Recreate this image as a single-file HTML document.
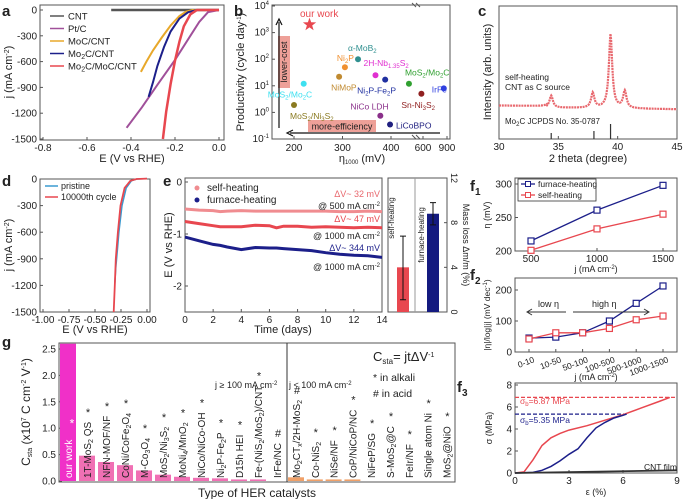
<!DOCTYPE html>
<html><head><meta charset="utf-8"><style>
body{margin:0;background:#fff}
svg{display:block;font-family:"Liberation Sans","Noto Sans CJK SC",sans-serif}
text{fill:#222}
</style></head><body>
<svg id="fig" width="685" height="499" viewBox="0 0 685 499">
<g font-weight="bold" font-size="15">
<text x="2" y="16">a</text><text x="234" y="16">b</text><text x="478" y="16">c</text>
<text x="2" y="186">d</text><text x="163" y="186">e</text><text x="2" y="347">g</text>
<text x="470" y="191">f<tspan font-size="10" dy="4">1</tspan></text>
<text x="470" y="280">f<tspan font-size="10" dy="4">2</tspan></text>
<text x="457" y="392">f<tspan font-size="10" dy="4">3</tspan></text>
</g>
</svg>
<script>
const NS='http://www.w3.org/2000/svg';
const svg=document.getElementById('fig');
function lin(d0,d1,r0,r1){return v=>r0+(v-d0)*(r1-r0)/(d1-d0);}
function mk(tag,attrs,name){const el=document.createElementNS(NS,tag);for(const k in attrs)el.setAttribute(k,attrs[k]);


svg.appendChild(el);return el;}
function tx(x,y,html,size,name,extra){const el=mk('text',Object.assign({x:x,y:y,'font-size':size},extra||{}),name);el.innerHTML=html;return el;}
function box(x0,y0,x1,y1,name){mk('rect',{x:x0,y:y0,width:x1-x0,height:y1-y0,fill:'none',stroke:'#555','stroke-width':1},name);}
function xticks(vals,sx,y,name,fmt){vals.forEach(v=>{mk('line',{x1:sx(v),x2:sx(v),y1:y,y2:y-3,stroke:'#555'},name+'-tick');
tx(sx(v),y+11,fmt?fmt(v):v,10,name+'-label',{'text-anchor':'middle'});});}
function yticks(vals,sy,x,name,fmt){vals.forEach(v=>{mk('line',{x1:x,x2:x+3,y1:sy(v),y2:sy(v),stroke:'#555'},name+'-tick');
tx(x-3,sy(v)+3.5,fmt?fmt(v):v,10,name+'-label',{'text-anchor':'end'});});}
function path(xs,ys,sx,sy,color,name,w,dash){const d=xs.map((v,i)=>(i?'L':'M')+sx(v).toFixed(1)+','+sy(ys[i]).toFixed(1)).join('');
return mk('path',{d:d,fill:'none',stroke:color,'stroke-width':w||1.5,'stroke-dasharray':dash||'none'},name);}
function rot(x,y,html,size,name,ang,anchor){return tx(x,y,html,size,name,{transform:'rotate('+(ang||-90)+' '+x+' '+y+')','text-anchor':anchor||'middle'});}

/* ---------- panel a data ---------- */
const aCntE=[-0.49,0], aCntJ=[0,0];
const aPtE=[-0.42,-0.35,-0.28,-0.2,-0.14,-0.09,-0.05,0], aPtJ=[-1370,-1130,-870,-580,-340,-140,-25,0];
const aMoCE=[-0.355,-0.33,-0.3,-0.26,-0.22,-0.18,-0.15,-0.12,0], aMoCJ=[-720,-600,-470,-320,-180,-70,-20,0,0];
const aMo2CE=[-0.32,-0.3,-0.28,-0.25,-0.22,-0.18,-0.14,-0.1,0], aMo2CJ=[-1010,-840,-650,-430,-250,-100,-25,0,0];
const aHybE=[-0.255,-0.24,-0.22,-0.2,-0.18,-0.16,-0.13,-0.1,0], aHybJ=[-1500,-1180,-860,-590,-370,-190,-50,0,0];
box(40,5,224,140,'panel-a-frame');
const xa=lin(-0.8,0,43,219), ya=lin(0,-1500,10,139);
xticks([-0.8,-0.6,-0.4,-0.2,0],xa,140,'a-x',v=>v.toFixed(1));
yticks([0,-300,-600,-900,-1200,-1500],ya,40,'a-y');
tx(132,162,'E (V vs RHE)',11,'a-x-title',{'text-anchor':'middle'});
rot(12,72,'j (mA cm<tspan dy="-3" font-size="7">-2</tspan><tspan dy="3">)</tspan>',11,'a-y-title');
path(aCntE,aCntJ,xa,ya,'#555','a-series-cnt',2.5);
path(aPtE,aPtJ,xa,ya,'#a0509a','a-series-ptc',2);
path(aMoCE,aMoCJ,xa,ya,'#e8a82a','a-series-moc',2);
path(aMo2CE,aMo2CJ,xa,ya,'#1c1f8a','a-series-mo2c',2);
path(aHybE,aHybJ,xa,ya,'#e8474f','a-series-hybrid',2.5);
[['CNT','#555'],['Pt/C','#a0509a'],['MoC/CNT','#e8a82a'],['Mo<tspan dy="2" font-size="7">2</tspan><tspan dy="-2">C/CNT</tspan>','#1c1f8a'],['Mo<tspan dy="2" font-size="7">2</tspan><tspan dy="-2">C/MoC/CNT</tspan>','#e8474f']].forEach((l,i)=>{
mk('line',{x1:50,x2:64,y1:16+i*12.5,y2:16+i*12.5,stroke:l[1],'stroke-width':1.5},'a-legend-line');
tx(68,19.5+i*12.5,l[0],9.5,'a-legend-entry');});

/* ---------- panel b data ---------- */
const bNames=['MoS<tspan dy="2" font-size="6">2</tspan><tspan dy="-2">/Ni</tspan><tspan dy="2" font-size="6">3</tspan><tspan dy="-2">S</tspan><tspan dy="2" font-size="6">2</tspan>','MoS<tspan dy="2" font-size="6">2</tspan><tspan dy="-2">/Mo</tspan><tspan dy="2" font-size="6">2</tspan><tspan dy="-2">C</tspan>','NiMoP','Ni<tspan dy="2" font-size="6">2</tspan><tspan dy="-2">P</tspan>','α-MoB<tspan dy="2" font-size="6">2</tspan>','2H-Nb<tspan dy="2" font-size="6">1.35</tspan><tspan dy="-2">S</tspan><tspan dy="2" font-size="6">2</tspan>','NiCo LDH','Ni<tspan dy="2" font-size="6">2</tspan><tspan dy="-2">P-Fe</tspan><tspan dy="2" font-size="6">2</tspan><tspan dy="-2">P</tspan>','LiCoBPO','MoS<tspan dy="2" font-size="6">2</tspan><tspan dy="-2">/Mo</tspan><tspan dy="2" font-size="6">2</tspan><tspan dy="-2">C</tspan>','Sn-Ni<tspan dy="2" font-size="6">3</tspan><tspan dy="-2">S</tspan><tspan dy="2" font-size="6">2</tspan>','IrFe'];
const bEta=[200,220,293,305,332,368,378,388,398,437,580,860];
const bProd=[1.9,12,22,50,100,25,0.75,17,0.35,12,5,8];
const bColors=['#8a7a20','#3de0f0','#c08a30','#f09030','#309090','#e030d0','#8a308a','#2030a0','#202080','#30a030','#902020','#3040e0'];
const bLabelDx=[-4,-36,-8,-8,-10,-12,-30,-28,6,-4,-20,-12];
const bLabelDy=[14,14,14,-6,-8,-9,-6,14,4,-8,14,4];
box(272,5,450,139,'panel-b-frame');
const xb=v=>v<=450?294+(v-200)*0.485:423+(v-600)*0.08;
const yb=v=>139-(Math.log10(v)+1)*26.6;
[200,300,400].forEach(v=>{mk('line',{x1:xb(v),x2:xb(v),y1:139,y2:136,stroke:'#555'},'b-x-tick');tx(xb(v),151,v,10,'b-x-label',{'text-anchor':'middle'});});
[600,900].forEach(v=>{mk('line',{x1:xb(v),x2:xb(v),y1:139,y2:136,stroke:'#555'},'b-x-tick');tx(xb(v),151,v,10,'b-x-label',{'text-anchor':'middle'});});
[-1,0,1,2,3,4].forEach(e=>{const y=yb(Math.pow(10,e));mk('line',{x1:272,x2:275,y1:y,y2:y,stroke:'#555'},'b-y-tick');tx(269,y+3,'10<tspan dy="-4" font-size="6">'+e+'</tspan>',10,'b-y-label',{'text-anchor':'end'});});
tx(362,162,'η<tspan dy="2" font-size="6">1000</tspan><tspan dy="-2"> (mV)</tspan>',11,'b-x-title',{'text-anchor':'middle'});
rot(244,72,'Productivity (cycle day<tspan dy="-3" font-size="6">-1</tspan><tspan dy="3">)</tspan>',11,'b-y-title');
mk('rect',{x:278,y:36,width:12,height:52,fill:'#eea098'},'lower-cost-band');
rot(287,62,'lower-cost',9,'lower-cost-label');
mk('rect',{x:308,y:120,width:68,height:12,fill:'#eea098'},'more-efficiency-band');
tx(342,129.5,'more-efficiency',9,'more-efficiency-label',{'text-anchor':'middle'});
mk('path',{d:'M279,128V22M276,25L279,19L282,25',fill:'none',stroke:'#111','stroke-width':1.2},'lower-cost-arrow');
mk('path',{d:'M440,133H290M293,130L287,133L293,136',fill:'none',stroke:'#111','stroke-width':1.2},'efficiency-arrow');
mk('path',{d:'M412,3l4,4M416,3l4,4M412,135l4,4M416,135l4,4',stroke:'#555'},'axis-break-marks');
bEta.forEach((v,i)=>{mk('circle',{cx:xb(v),cy:yb(bProd[i]),r:3,fill:bColors[i]},'b-point');
tx(xb(v)+bLabelDx[i],yb(bProd[i])+bLabelDy[i],bNames[i],8.5,'b-point-label',{style:'fill:'+bColors[i]});});
const starX=xb(232),starY=yb(2000);
mk('path',{d:(()=>{let d='';for(let k=0;k<10;k++){const r=k%2?2.8:7,a=-Math.PI/2+k*Math.PI/5;d+=(k?'L':'M')+(starX+r*Math.cos(a)).toFixed(1)+','+(starY+r*Math.sin(a)).toFixed(1);}return d+'Z';})(),fill:'#e8474f'},'our-work-star');
tx(300,17,'our work',10,'our-work-label',{style:'fill:#e8474f'});

/* ---------- panel c data ---------- */
const cPeakPos=[34.4,37.9,39.4,40.6];
const cPeakHt=[12,15,74,17];
const cRefPos=[34.4,38.0,39.4];
const cRefHt=[6,8,15];
box(499,6,677,139,'panel-c-frame');
const xc=lin(30,45,499,677);
xticks([30,35,40,45],xc,139,'c-x');
tx(588,162,'2 theta (degree)',11,'c-x-title',{'text-anchor':'middle'});
rot(491,72,'Intensity (arb. units)',11,'c-y-title');
(()=>{let d='';for(let t=30;t<=45;t+=0.05){let I=0;cPeakPos.forEach((p,i)=>{I+=cPeakHt[i]/(1+Math.pow((t-p)/0.17,2));});I+=(t<34?1.5:0)-(t-30)*0.15;d+=(d?'L':'M')+xc(t).toFixed(1)+','+(107-I).toFixed(1);}
mk('path',{d:d,fill:'none',stroke:'#e8686e','stroke-width':2.2,'stroke-dasharray':'2 0.8'},'c-xrd-curve');})();
cRefPos.forEach((p,i)=>mk('line',{x1:xc(p),x2:xc(p),y1:139,y2:139-cRefHt[i],stroke:'#333','stroke-width':1.2},'c-reference-line'));
tx(505,80,'self-heating',8.5,'c-annotation');
tx(505,90,'CNT as C source',8.5,'c-annotation');
tx(505,124,'Mo<tspan dy="2" font-size="6">2</tspan><tspan dy="-2">C JCPDS No. 35-0787</tspan>',8,'c-jcpds-label');

/* ---------- panel d data ---------- */
const dPrisE=[-0.31,-0.3,-0.285,-0.27,-0.24,-0.2,-0.15,-0.1,0], dPrisJ=[-1180,-1000,-800,-600,-300,-100,-20,0,5];
const dCycE=[-0.32,-0.31,-0.3,-0.28,-0.255,-0.215,-0.16,-0.1,0], dCycJ=[-1500,-1200,-900,-600,-300,-100,-20,0,5];
box(40,179,150,312,'panel-d-frame');
const xd=lin(-1,0,43,147), yd=lin(0,-1500,179,312);
xticks([-1,-0.75,-0.5,-0.25,0],xd,312,'d-x',v=>v.toFixed(2));
yticks([0,-300,-600,-900,-1200,-1500],yd,40,'d-y');
tx(95,333,'E (V vs RHE)',11,'d-x-title',{'text-anchor':'middle'});
rot(12,245,'j (mA cm<tspan dy="-3" font-size="7">-2</tspan><tspan dy="3">)</tspan>',11,'d-y-title');
path(dPrisE,dPrisJ,xd,yd,'#3a9ad0','d-series-pristine',1.5);
path(dCycE,dCycJ,xd,yd,'#e8474f','d-series-10000th',1.8);
mk('line',{x1:45,x2:58,y1:186,y2:186,stroke:'#3a9ad0','stroke-width':1.5},'d-legend-line');
tx(61,189,'pristine',9,'d-legend-entry');
mk('line',{x1:45,x2:58,y1:197,y2:197,stroke:'#e8474f','stroke-width':1.5},'d-legend-line');
tx(61,200,'10000th cycle',9,'d-legend-entry');

/* ---------- panel e data ---------- */
const eT=[0,1,2,2.5,3,4,5,6,6.5,7,8,9,10,11,12,13,14];
const eSelf500=[-0.52,-0.54,-0.55,-0.57,-0.56,-0.55,-0.56,-0.56,-0.56,-0.56,-0.56,-0.56,-0.56,-0.57,-0.57,-0.56,-0.57];
const eSelf1000=[-0.76,-0.8,-0.84,-0.86,-0.86,-0.86,-0.83,-0.84,-0.88,-0.85,-0.85,-0.87,-0.86,-0.87,-0.88,-0.87,-0.88];
const eFurn1000=[-1.06,-1.13,-1.2,-1.22,-1.25,-1.3,-1.26,-1.27,-1.27,-1.28,-1.3,-1.32,-1.36,-1.39,-1.41,-1.42,-1.45];
const eBarVals=[4,8.8], eErrLo=[1.1,7.8], eErrHi=[6.8,9.8];
box(185,178,382,312,'panel-e-frame');
const xe=lin(0,14,185,382), ye=lin(0,-2,182,286);
xticks([0,2,4,6,8,10,12,14],xe,312,'e-x');
yticks([0,-1,-2],ye,185,'e-y');
tx(283,333,'Time  (days)',11,'e-x-title',{'text-anchor':'middle'});
rot(172,245,'E (V vs RHE)',11,'e-y-title');
path(eT,eSelf500,xe,ye,'#f08c90','e-self-500',3);
path(eT,eSelf1000,xe,ye,'#e8474f','e-self-1000',3);
path(eT,eFurn1000,xe,ye,'#1c1f8a','e-furnace-1000',3);
mk('circle',{cx:197,cy:188,r:2.5,fill:'#f08c90'},'e-legend-marker');tx(207,191,'self-heating',10,'e-legend-entry');
mk('circle',{cx:197,cy:200,r:2.5,fill:'#1c1f8a'},'e-legend-marker');tx(207,203,'furnace-heating',10,'e-legend-entry');
tx(380,197,'ΔV~ 32 mV',9,'e-dv-label',{'text-anchor':'end',style:'fill:#e8686e'});
tx(380,209,'@ 500 mA cm<tspan dy="-3" font-size="6">-2</tspan>',9,'e-current-label',{'text-anchor':'end'});
tx(380,222,'ΔV~ 47 mV',9,'e-dv-label',{'text-anchor':'end',style:'fill:#e8474f'});
tx(380,239,'@ 1000 mA cm<tspan dy="-3" font-size="6">-2</tspan>',9,'e-current-label',{'text-anchor':'end'});
tx(380,251,'ΔV~ 344 mV',9,'e-dv-label',{'text-anchor':'end',style:'fill:#1c1f8a'});
tx(380,270,'@ 1000 mA cm<tspan dy="-3" font-size="6">-2</tspan>',9,'e-current-label',{'text-anchor':'end'});
box(388,178,447,312,'e-inset-frame');
mk('line',{x1:415,x2:415,y1:178,y2:312,stroke:'#999'},'e-inset-divider');
const yeb=lin(0,12,312,178);
[0,4,8,12].forEach(v=>{mk('line',{x1:447,x2:444,y1:yeb(v),y2:yeb(v),stroke:'#555'},'e-inset-tick');rot(451,yeb(v),String(v),9,'e-inset-tick-label',90);});
rot(463,245,'Mass loss Δm/m (%)',9,'e-inset-y-title',90);
const ebX=[403,433],ebC=['#e8474f','#141a80'],ebN=['self-heating','furnace-heating'];
eBarVals.forEach((v,i)=>{mk('rect',{x:ebX[i]-6,y:yeb(v),width:12,height:312-yeb(v),fill:ebC[i]},'e-inset-bar');
mk('path',{d:'M'+ebX[i]+','+yeb(eErrLo[i])+'V'+yeb(eErrHi[i])+'M'+(ebX[i]-3)+','+yeb(eErrLo[i])+'h6M'+(ebX[i]-3)+','+yeb(eErrHi[i])+'h6',stroke:'#111',fill:'none'},'e-inset-errorbar');
rot(ebX[i]-9,i?235:218,ebN[i],8,'e-inset-bar-label',-90);});

/* ---------- panel f1 data ---------- */
const f1J=[500,1000,1500];
const f1Furn=[215,261,298], f1Self=[201,233,255];
box(515,178,677,251,'panel-f1-frame');
const xf1=lin(500,1500,531,663), yf1=lin(200,300,251,184);
xticks([500,1000,1500],xf1,251,'f1-x');
yticks([200,250,300],yf1,515,'f1-y');
tx(596,272,'j (mA cm<tspan dy="-3" font-size="6">-2</tspan><tspan dy="3">)</tspan>',9,'f1-x-title',{'text-anchor':'middle'});
rot(490,215,'η (mV)',9,'f1-y-title');
function mser(xs,ys,sx,sy,c,name){path(xs,ys,sx,sy,c,name+'-line',1.3);xs.forEach((v,i)=>mk('rect',{x:sx(v)-3,y:sy(ys[i])-3,width:6,height:6,fill:'#fff',stroke:c,'stroke-width':1.2},name+'-marker'));}
mser(f1J,f1Furn,xf1,yf1,'#1c1f8a','f1-furnace');
mser(f1J,f1Self,xf1,yf1,'#e8474f','f1-self');
mk('rect',{x:518,y:179,width:78,height:22,fill:'#fff',stroke:'#333','stroke-width':0.8},'f1-legend-box');
mk('line',{x1:521,x2:535,y1:184,y2:184,stroke:'#1c1f8a','stroke-width':1.3},'f1-legend-line');mk('rect',{x:525.5,y:181.5,width:5,height:5,fill:'#fff',stroke:'#1c1f8a'},'f1-legend-marker');
tx(538,187,'furnace-heating',8.5,'f1-legend-entry');
mk('line',{x1:521,x2:535,y1:195,y2:195,stroke:'#e8474f','stroke-width':1.3},'f1-legend-line');mk('rect',{x:525.5,y:192.5,width:5,height:5,fill:'#fff',stroke:'#e8474f'},'f1-legend-marker');
tx(538,198,'self-heating',8.5,'f1-legend-entry');

/* ---------- panel f2 data ---------- */
const f2Cats=['0-10','10-50','50-100','100-500','500-1000','1000-1500'];
const f2Furn=[45,48,62,100,157,213], f2Self=[42,62,62,76,104,116];
box(515,278,677,352,'panel-f2-frame');
const xf2=i=>529+i*26.8, yf2=lin(0,200,352,290);
yticks([0,100,200],yf2,515,'f2-y');
f2Cats.forEach((c,i)=>{mk('line',{x1:xf2(i),x2:xf2(i),y1:352,y2:349,stroke:'#555'},'f2-x-tick');rot(xf2(i)+6,362,c,8.5,'f2-x-label',-20,'end');});
tx(596,380,'j (mA cm<tspan dy="-3" font-size="6">-2</tspan><tspan dy="3">)</tspan>',9,'f2-x-title',{'text-anchor':'middle'});
rot(490,315,'|η|/log|j| (mV dec<tspan dy="-3" font-size="6">-1</tspan><tspan dy="3">)</tspan>',8.5,'f2-y-title');
mser([0,1,2,3,4,5],f2Furn,xf2,yf2,'#1c1f8a','f2-furnace');
mser([0,1,2,3,4,5],f2Self,xf2,yf2,'#e8474f','f2-self');
mk('path',{d:'M566,312H528M532,309L527,312L532,315',stroke:'#333',fill:'none'},'low-eta-arrow');
tx(538,307,'low η',9,'low-eta-label');
mk('path',{d:'M573,312H648M644,309L649,312L644,315',stroke:'#333',fill:'none'},'high-eta-arrow');
tx(592,307,'high η',9,'high-eta-label');

/* ---------- panel f3 data ---------- */
const f3SelfE=[0,0.5,1,1.5,2,2.5,3,4,5,6,7,8,8.6], f3SelfS=[0,0.1,1.2,2.5,3.2,3.6,3.9,4.3,4.8,5.3,5.9,6.5,6.87];
const f3FurnE=[0,1,1.5,2,2.5,3,3.5,4,4.5,5,5.5,6,6.2], f3FurnS=[0,0.05,0.25,0.6,1.1,1.7,2.2,3.2,4.1,4.6,5.0,5.25,5.35];
const f3CntE=[0,9], f3CntS=[0,0.25];
const f3Strength=[6.87,5.35];
box(515,383,677,473,'panel-f3-frame');
const xf3=lin(0,9,515,677), yf3=lin(0,8,473,385);
xticks([0,3,6,9],xf3,473,'f3-x');
yticks([0,2,4,6,8],yf3,515,'f3-y');
tx(596,495,'ε (%)',9,'f3-x-title',{'text-anchor':'middle'});
rot(492,428,'σ (MPa)',9,'f3-y-title');
path([0,9],[f3Strength[0],f3Strength[0]],xf3,yf3,'#e8474f','f3-red-dashed',1.3,'4 2');
path([0,6.2],[f3Strength[1],f3Strength[1]],xf3,yf3,'#1c1f8a','f3-blue-dashed',1.3,'4 2');
path(f3SelfE,f3SelfS,xf3,yf3,'#e8474f','f3-self-curve',1.5);
path(f3FurnE,f3FurnS,xf3,yf3,'#1c1f8a','f3-furnace-curve',1.5);
path(f3CntE,f3CntS,xf3,yf3,'#333','f3-cnt-curve',1.8);
tx(520,404,'σ<tspan dy="2" font-size="6">b</tspan><tspan dy="-2">=6.87 MPa</tspan>',8.5,'f3-red-label',{style:'fill:#e8474f'});
tx(520,423,'σ<tspan dy="2" font-size="6">b</tspan><tspan dy="-2">=5.35 MPa</tspan>',8.5,'f3-blue-label',{style:'fill:#1c1f8a'});
tx(644,470,'CNT film',8.5,'f3-cnt-label');

/* ---------- panel g data ---------- */
const gNames=['our work','1T-MoS<tspan dy="2" font-size="7">2</tspan><tspan dy="-2"> QS</tspan>','NFN-MOF/NF','CoNi/CoFe<tspan dy="2" font-size="7">2</tspan><tspan dy="-2">O</tspan><tspan dy="2" font-size="7">4</tspan>','M-Co<tspan dy="2" font-size="7">3</tspan><tspan dy="-2">O</tspan><tspan dy="2" font-size="7">4</tspan>','MoS<tspan dy="2" font-size="7">2</tspan><tspan dy="-2">/Ni</tspan><tspan dy="2" font-size="7">3</tspan><tspan dy="-2">S</tspan><tspan dy="2" font-size="7">2</tspan>','MoNi<tspan dy="2" font-size="7">4</tspan><tspan dy="-2">/MnO</tspan><tspan dy="2" font-size="7">2</tspan>','NiCo/NiCo-OH','Ni<tspan dy="2" font-size="7">2</tspan><tspan dy="-2">P-Fe</tspan><tspan dy="2" font-size="7">2</tspan><tspan dy="-2">P</tspan>','D15h HEI','Fe-(NiS<tspan dy="2" font-size="7">2</tspan><tspan dy="-2">/MoS</tspan><tspan dy="2" font-size="7">2</tspan><tspan dy="-2">)/CNT</tspan>','IrFe/NC','Mo<tspan dy="2" font-size="7">2</tspan><tspan dy="-2">CT</tspan><tspan dy="2" font-size="7">x</tspan><tspan dy="-2">/2H-MoS</tspan><tspan dy="2" font-size="7">2</tspan>','Co-NiS<tspan dy="2" font-size="7">2</tspan>','NiSe/NF','CoP/NiCoP/NC','NiFeP/SG','S-MoS<tspan dy="2" font-size="7">2</tspan><tspan dy="-2">@C</tspan>','FeIr/NF','Single atom Ni','MoS<tspan dy="2" font-size="7">2</tspan><tspan dy="-2">@NiO</tspan>'];
const gVals=[2.6,0.48,0.36,0.3,0.2,0.12,0.08,0.06,0.05,0.03,0.03,0,0.07,0.03,0.03,0.03,0,0,0,0,0];
const gMarks=['*','*','*','*','*','*','*','*','*','*','*','#','#','*','*','*','*','*','*','*','*'];
box(59,343,455,482,'panel-g-frame');
mk('line',{x1:287,x2:287,y1:343,y2:482,stroke:'#333'},'g-group-divider');
const yg=lin(0,2.5,481,349);
yticks([0,0.5,1,1.5,2,2.5],yg,59,'g-y',v=>v.toFixed(1));
const xg=i=>i<12?68+i*19:296+(i-12)*18.8;
rot(30,412,'C<tspan dy="2" font-size="7">sta</tspan><tspan dy="-2"> (x10</tspan><tspan dy="-4" font-size="7">7</tspan><tspan dy="4"> C cm</tspan><tspan dy="-4" font-size="7">-2</tspan><tspan dy="4"> V</tspan><tspan dy="-4" font-size="7">-1</tspan><tspan dy="4">)</tspan>',12,'g-y-title');
tx(257,497,'Type of HER catalysts',12,'g-x-title',{'text-anchor':'middle'});
gVals.forEach((v,i)=>{const c=i==0?'#f030c8':(i<12?'#f070b4':'#f0a068');
mk('rect',{x:xg(i)-8,y:yg(v),width:16,height:481-yg(v),fill:c},'g-bar');
const t=rot(xg(i)+4,478,gNames[i],10,'g-bar-label',-90,'start');
if(i==0)t.style.fill='#fff';
let L=60;try{L=t.getComputedTextLength();}catch(e){}
if(i==0)tx(xg(i)+4,478-L-12,'*',12,'g-mark',{'text-anchor':'middle',style:'fill:#fff'});
else tx(xg(i)+1,478-L-6,gMarks[i],11,'g-mark',{'text-anchor':'middle'});});
tx(215,388,'j ≥ 100 mA cm<tspan dy="-3" font-size="6">-2</tspan>',9,'g-group-label-high');
tx(289,388,'j &lt; 100 mA cm<tspan dy="-3" font-size="6">-2</tspan>',9,'g-group-label-low');
tx(373,361,'C<tspan dy="3" font-size="8">sta</tspan><tspan dy="-3">= jtΔV</tspan><tspan dy="-4" font-size="7">-1</tspan>',13,'g-formula');
tx(373,381,'*   in alkali',10.5,'g-legend-alkali');
tx(373,397,'#   in acid',10.5,'g-legend-acid');
</script>
</body></html>
